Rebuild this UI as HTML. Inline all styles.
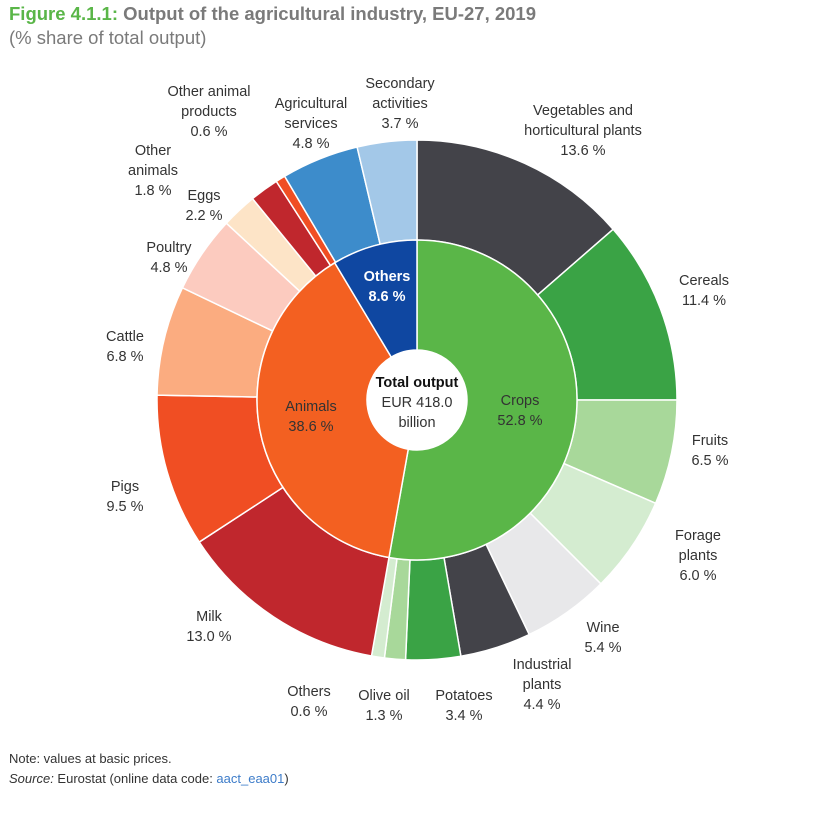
<!DOCTYPE html>
<html><head><meta charset="utf-8"><style>
body{margin:0;background:#fff;width:837px;height:813px;overflow:hidden;font-family:"Liberation Sans",sans-serif;}
.t{position:absolute;left:9px;font-size:18.5px;font-weight:bold;color:#7a7a7a;}
.l{position:absolute;font-size:14.5px;color:#333;text-align:center;line-height:20px;white-space:nowrap;transform:translateX(-50%);}
.n{position:absolute;left:9px;font-size:13px;color:#333;}
</style></head><body>
<div class="t" style="top:3px"><span style="color:#5ab648">Figure 4.1.1:</span> Output of the agricultural industry, EU-27, 2019</div>
<div class="t" style="top:27px;font-weight:normal">(% share of total output)</div>
<svg id="s" width="837" height="813" style="position:absolute;left:0;top:0"></svg>
<div class="l" style="left:400px;top:74px">Secondary<br>activities<br>3.7 %</div>
<div class="l" style="left:311px;top:94px">Agricultural<br>services<br>4.8 %</div>
<div class="l" style="left:209px;top:82px">Other animal<br>products<br>0.6 %</div>
<div class="l" style="left:153px;top:141px">Other<br>animals<br>1.8 %</div>
<div class="l" style="left:204px;top:186px">Eggs<br>2.2 %</div>
<div class="l" style="left:169px;top:238px">Poultry<br>4.8 %</div>
<div class="l" style="left:125px;top:327px">Cattle<br>6.8 %</div>
<div class="l" style="left:125px;top:477px">Pigs<br>9.5 %</div>
<div class="l" style="left:209px;top:607px">Milk<br>13.0 %</div>
<div class="l" style="left:309px;top:682px">Others<br>0.6 %</div>
<div class="l" style="left:384px;top:686px">Olive oil<br>1.3 %</div>
<div class="l" style="left:464px;top:686px">Potatoes<br>3.4 %</div>
<div class="l" style="left:542px;top:655px">Industrial<br>plants<br>4.4 %</div>
<div class="l" style="left:603px;top:618px">Wine<br>5.4 %</div>
<div class="l" style="left:698px;top:526px">Forage<br>plants<br>6.0 %</div>
<div class="l" style="left:710px;top:431px">Fruits<br>6.5 %</div>
<div class="l" style="left:704px;top:271px">Cereals<br>11.4 %</div>
<div class="l" style="left:583px;top:101px">Vegetables and<br>horticultural plants<br>13.6 %</div>
<div class="l" style="left:520px;top:391px">Crops<br>52.8 %</div>
<div class="l" style="left:311px;top:397px">Animals<br>38.6 %</div>
<div class="l" style="left:387px;top:267px;color:#fff;font-weight:bold">Others<br>8.6 %</div>
<div class="l" style="left:417px;top:373px"><b style="color:#111">Total output</b><br>EUR 418.0<br>billion</div>
<div class="n" style="top:751px">Note: values at basic prices.</div>
<div class="n" style="top:771px"><i>Source:</i> Eurostat (online data code: <span style="color:#3d7cc9">aact_eaa01</span>)</div>
<script>
var cx=417,cy=400,s=document.getElementById('s'),NS='http://www.w3.org/2000/svg';
function pt(r,a){a=a*Math.PI/180;return [cx+r*Math.sin(a),cy-r*Math.cos(a)];}
function seg(r0,r1,a0,a1,c){var p0=pt(r1,a0),p1=pt(r1,a1),p2=pt(r0,a1),p3=pt(r0,a0),lg=(a1-a0)>180?1:0;
var d='M'+p0+' A'+r1+' '+r1+' 0 '+lg+' 1 '+p1+' L'+p2+' A'+r0+' '+r0+' 0 '+lg+' 0 '+p3+'Z';
var e=document.createElementNS(NS,'path');e.setAttribute('d',d);e.setAttribute('fill',c);e.setAttribute('stroke','#fff');e.setAttribute('stroke-width','1.5');s.appendChild(e);}
var outer=[[13.6,'#434349'],[11.4,'#3aa345'],[6.5,'#a8d89a'],[6.0,'#d4ecd0'],[5.4,'#e8e8ea'],[4.4,'#434349'],[3.4,'#3aa345'],[1.3,'#a8d89a'],[0.8,'#d4ecd0'],
[13.0,'#c0272d'],[9.5,'#f04e23'],[6.8,'#fbac80'],[4.8,'#fccbbf'],[2.2,'#fde4c7'],[1.8,'#c0272d'],[0.6,'#f04e23'],[4.8,'#3d8ccb'],[3.7,'#a3c8e8']];
var tot=0;outer.forEach(function(o){tot+=o[0]});
var a=0;outer.forEach(function(o){var b=a+o[0]/tot*360;seg(160,260,a,b,o[1]);a=b;});
var inner=[[52.8,'#5ab648'],[38.6,'#f36021'],[8.6,'#0f47a1']];a=0;
inner.forEach(function(o){var b=a+o[0]/100*360;seg(50,160,a,b,o[1]);a=b;});
</script>
</body></html>
